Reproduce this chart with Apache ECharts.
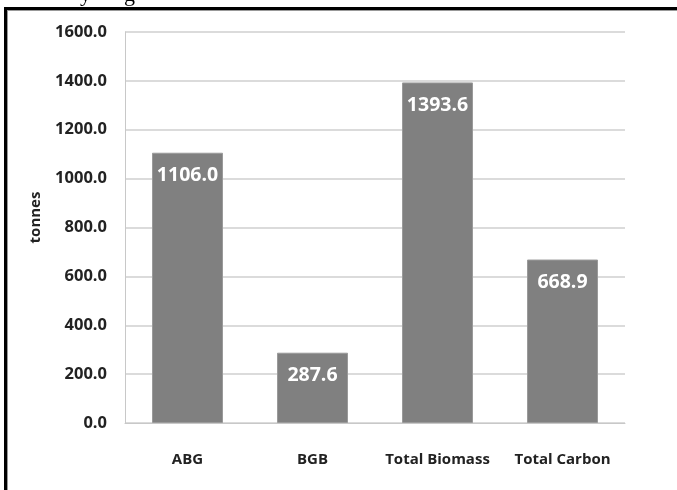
<!DOCTYPE html>
<html>
<head>
<meta charset="utf-8">
<script src="https://cdn.jsdelivr.net/npm/echarts@6/dist/echarts.min.js"></script>
<style>
  html, body { margin: 0; padding: 0; background: #fff; }
  #chart { width: 677px; height: 490px; }
</style>
</head>
<body>
<div id="chart"></div>
<script>
var categories = ['ABG', 'BGB', 'Total Biomass', 'Total Carbon'];
var tonnes = [1106.0, 287.6, 1393.6, 668.9];
var yTicks = { min: 0, max: 1600, interval: 200 };

var myChart = echarts.init(document.getElementById('chart'));
var option = {
    backgroundColor: '#fff',
    animation: false,
    grid: { left: 125, right: 52, top: 32, bottom: 67 },
    graphic: [
        // frame of the original figure
        { type: 'line', shape: { x1: 4, y1: 8.5, x2: 677, y2: 8.5 }, style: { stroke: '#000', lineWidth: 3 } },
        { type: 'line', shape: { x1: 5.5, y1: 7, x2: 5.5, y2: 490 }, style: { stroke: '#000', lineWidth: 3 } },
        { type: 'line', shape: { x1: 7, y1: 10.5, x2: 677, y2: 10.5 }, style: { stroke: '#999', lineWidth: 1 } },
        { type: 'line', shape: { x1: 7.5, y1: 10, x2: 7.5, y2: 490 }, style: { stroke: '#999', lineWidth: 1 } },
        // descenders of the caption cut off above
        { type: 'text', left: 80, top: -16, style: { text: 'y', font: '22px "Liberation Serif"', fill: '#000' } },
        { type: 'text', left: 124, top: -16, style: { text: 'g', font: '22px "Liberation Serif"', fill: '#000' } }
    ],
    xAxis: {
        type: 'category',
        data: categories,
        axisLine: { lineStyle: { color: '#c8c8c8', width: 1 } },
        axisTick: { show: false },
        axisLabel: {
            interval: 0,
            margin: 29,
            color: '#222',
            fontFamily: 'Open Sans',
            fontWeight: 'bold',
            fontSize: 15
        }
    },
    yAxis: {
        type: 'value',
        min: yTicks.min,
        max: yTicks.max,
        interval: yTicks.interval,
        name: 'tonnes',
        nameLocation: 'middle',
        nameRotate: 90,
        nameGap: 82,
        nameTextStyle: { color: '#222', fontFamily: 'Open Sans', fontWeight: 'bold', fontSize: 15, padding: [0, 0, 0, 20] },
        axisLine: { show: true, lineStyle: { color: '#c8c8c8' } },
        axisTick: { show: false },
        splitLine: { lineStyle: { color: '#cfcfcf', width: 1.5 } },
        axisLabel: {
            margin: 18,
            color: '#222',
            fontFamily: 'Open Sans',
            fontWeight: 'bold',
            fontSize: 16.5,
            formatter: function (v) { return v.toFixed(1); }
        }
    },
    series: [{
        type: 'bar',
        data: tonnes,
        barWidth: 71,
        itemStyle: { color: '#808080', borderColor: '#9a9a9a', borderWidth: 1 },
        label: {
            show: true,
            position: 'insideTop',
            distance: 13,
            color: '#fff',
            fontFamily: 'Open Sans',
            fontWeight: 'bold',
            fontSize: 19.5,
            formatter: function (p) { return p.value.toFixed(1); }
        }
    }]
};
myChart.setOption(option);
</script>
</body>
</html>
